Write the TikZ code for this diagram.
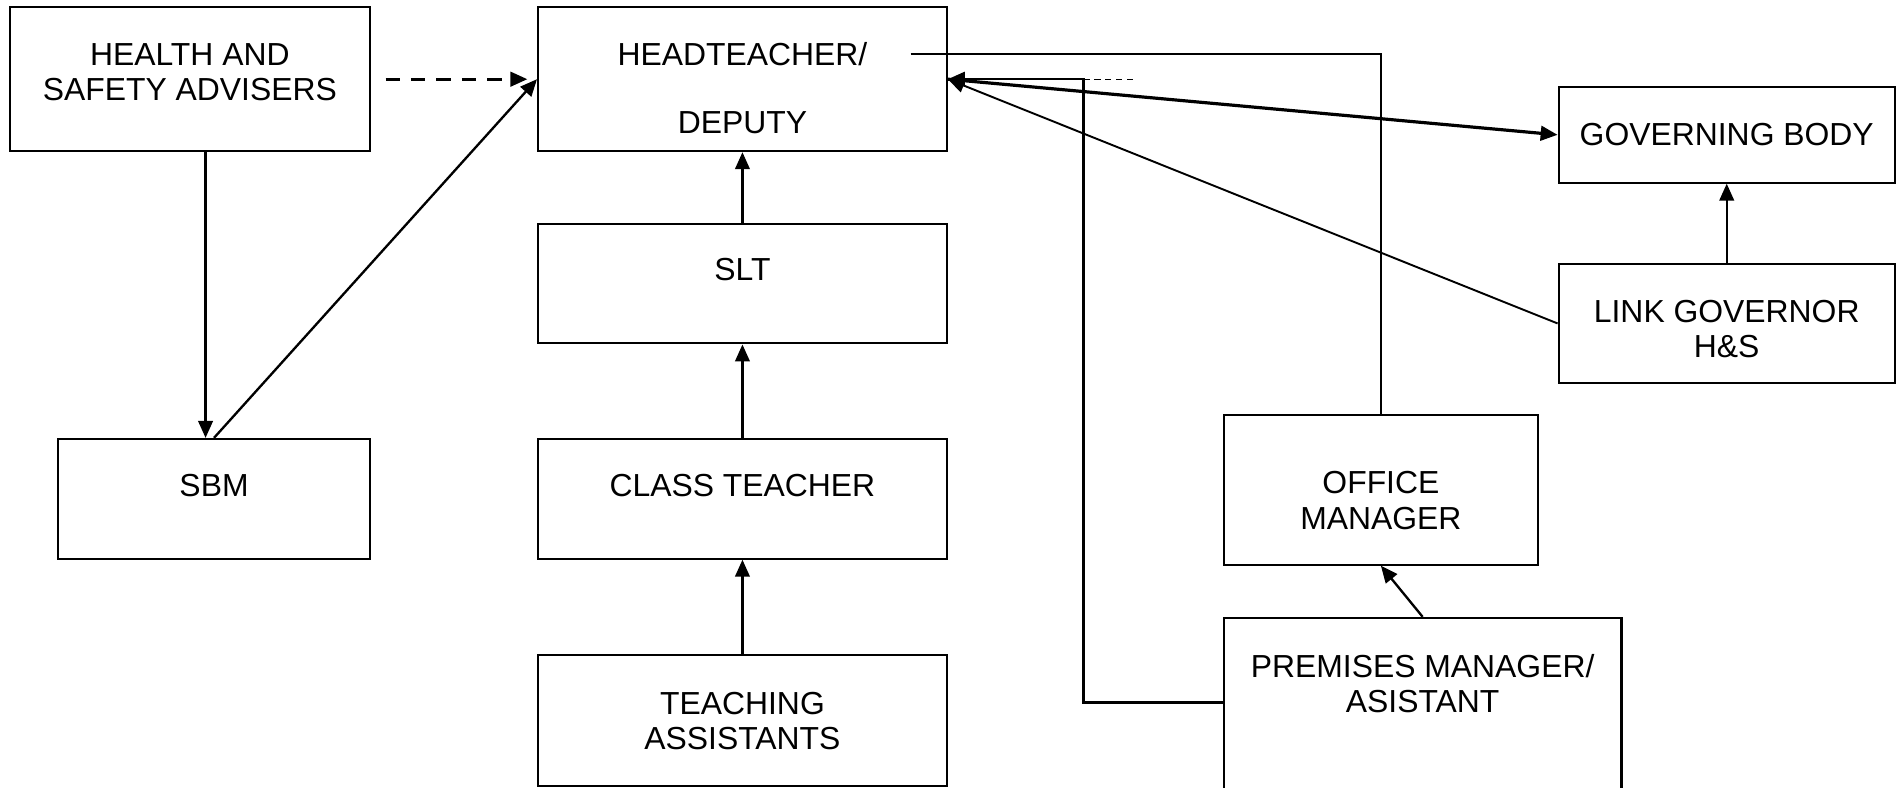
\documentclass[tikz,border=0pt]{standalone}
\usepackage{fontspec}
\setmainfont{Liberation Sans}
\usepackage{tikz}
\usetikzlibrary{arrows.meta,shapes,calc,positioning}

\begin{document}
\begin{tikzpicture}[
  box/.style={draw, line width=1pt, align=center, inner sep=0pt, font=\fontsize{15}{16.5}\selectfont},
  arr/.style={-{Triangle[length=0.28cm,width=0.24cm]}, line width=1.1pt},
  ]
\useasboundingbox (0,0) rectangle (31.36,-13.02);
% boxes
\node[box, minimum width=5.96cm, minimum height=2.38cm, text depth=0.24cm] (has) at (3.14,-1.31) {HEALTH AND\\SAFETY ADVISERS};
\node[box, minimum width=6.76cm, minimum height=2.38cm, text height=1.80cm, text depth=0cm] (ht) at (12.28,-1.31) {HEADTEACHER/\\[0.54cm]DEPUTY};
\node[box, minimum width=6.76cm, minimum height=1.98cm, text depth=0.46cm] (slt) at (12.28,-4.69) {SLT};
\node[box, minimum width=6.76cm, minimum height=1.98cm, text depth=0.46cm] (ct) at (12.28,-8.25) {CLASS TEACHER};
\node[box, minimum width=6.76cm, minimum height=2.16cm] (ta) at (12.28,-11.92) {TEACHING\\ASSISTANTS};
\node[box, minimum width=5.16cm, minimum height=1.98cm, text depth=0.46cm] (sbm) at (3.54,-8.25) {SBM};
\node[box, minimum width=5.56cm, minimum height=1.58cm] (gb) at (28.56,-2.23) {GOVERNING BODY};
\node[box, minimum width=5.56cm, minimum height=1.98cm, text height=1.12cm, text depth=0cm] (lg) at (28.56,-5.35) {LINK GOVERNOR\\H\&S};
\node[box, minimum width=5.20cm, minimum height=2.48cm, text height=1.30cm, text depth=0cm] (om) at (22.84,-8.10) {OFFICE\\MANAGER};
\node[box, minimum width=6.58cm, minimum height=4.00cm, text depth=1.82cm] (pm) at (23.53,-12.22) {PREMISES MANAGER/\\ASISTANT};

% left side
\draw[arr, line width=1.3pt, dash pattern=on 0.24cm off 0.18cm, shorten <=0.24cm, shorten >=0.16cm] (has.east) -- (ht.west);
\coordinate (hasdown) at ([xshift=0.26cm]has.south);
\draw[arr] (hasdown) -- (hasdown |- sbm.north);
\draw[arr] (sbm.north) -- (ht.west);

% middle column
\draw[arr] (slt.north) -- (ht.south);
\draw[arr] (ct.north) -- (slt.south);
\draw[arr] (ta.north) -- (ct.south);

% right side
\coordinate (htout) at (15.06,-0.90);
\draw[line width=1pt] (htout) -| (om.north);
\draw[arr] ([yshift=0.6cm]pm.west) -- ++(-2.30,0) coordinate (bend) |- (ht.east);
\draw[dash pattern=on 0.1cm off 0.08cm, line width=0.6pt] (bend |- ht.east) -- ++(0.9,0);
\draw[arr, line width=1.5pt] (ht.east) -- (gb.west);
\draw[arr, line width=0.9pt] (lg.west) -- (ht.east);
\draw[arr] (pm.north) -- (om.south);
\draw[arr] (lg.north) -- (gb.south);
\end{tikzpicture}
\end{document}
